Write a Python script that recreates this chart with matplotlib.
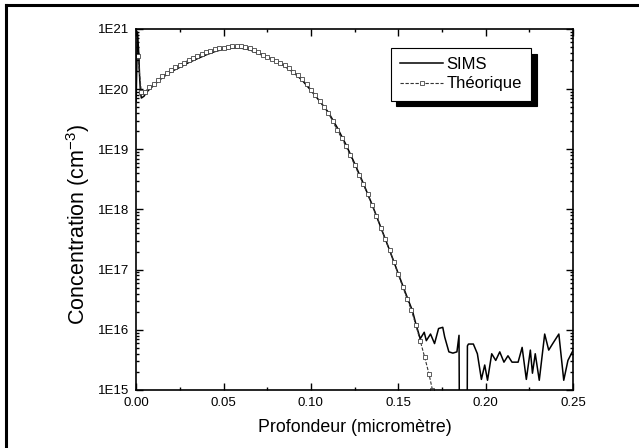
import matplotlib.pyplot as plt
from matplotlib.lines import Line2D
from matplotlib.ticker import FixedLocator, LogLocator, NullFormatter

plt.rcParams["font.family"] = ["Liberation Sans", "DejaVu Sans"]
plt.rcParams["mathtext.fontset"] = "custom"
plt.rcParams["mathtext.rm"] = "Liberation Sans"
plt.rcParams["mathtext.default"] = "regular"

# SIMS profile (depth in micrometres, concentration in cm^-3)
sims_depth = [
    0.000, 0.0008, 0.0015, 0.002, 0.0025, 0.003, 0.0045, 0.006, 0.010, 0.015,
    0.020, 0.025, 0.030, 0.035, 0.040, 0.045, 0.050, 0.055, 0.060, 0.065,
    0.070, 0.075, 0.080, 0.085, 0.090, 0.095, 0.100, 0.105, 0.110, 0.115,
    0.120, 0.125, 0.130, 0.135, 0.140, 0.145, 0.150, 0.155, 0.158, 0.160,
    0.1625, 0.1648, 0.1660, 0.1684, 0.1707, 0.1730, 0.1754, 0.1765, 0.1789, 0.1812,
    0.1835, 0.1847, 0.1850, 0.1893, 0.1895, 0.1901, 0.1929, 0.1952, 0.1975, 0.1994,
    0.2010, 0.2034, 0.2057, 0.2080, 0.2104, 0.2127, 0.2150, 0.2185, 0.2208, 0.2232,
    0.2255, 0.2267, 0.2283, 0.2306, 0.2337, 0.2360, 0.2383, 0.2418, 0.2446, 0.2470,
    0.2500,
]
sims_conc = [
    6.3e19, 8.9e20, 4.0e20, 1.6e20, 8.9e19, 7.1e19, 7.6e19, 8.9e19, 1.15e20, 1.55e20,
    1.95e20, 2.3e20, 2.75e20, 3.2e20, 3.7e20, 4.2e20, 4.6e20, 4.8e20, 4.8e20, 4.5e20,
    3.9e20, 3.4e20, 2.9e20, 2.4e20, 1.9e20, 1.4e20, 9.5e19, 6.3e19, 4.1e19, 2.3e19,
    1.2e19, 5.8e18, 2.7e18, 1.2e18, 5.0e17, 2.1e17, 8.5e16, 3.5e16, 2.1e16, 1.26e16,
    7.1e15, 9.1e15, 6.6e15, 8.5e15, 5.9e15, 1.05e16, 1.1e16, 7.6e15, 4.3e15, 4.1e15,
    4.3e15, 8.1e15, 1e14, 1e14, 5.4e15, 5.8e15, 5.8e15, 4.0e15, 1.5e15, 2.6e15,
    1.45e15, 4.0e15, 3.1e15, 4.3e15, 2.9e15, 3.7e15, 2.9e15, 2.9e15, 5.1e15, 1.5e15,
    4.6e15, 1.9e15, 4.0e15, 1.45e15, 8.5e15, 4.6e15, 5.9e15, 8.5e15, 1.45e15, 3.1e15,
    4.6e15,
]

# Theoretical profile
theo_depth = [
    0.001, 0.003, 0.005, 0.0075, 0.010, 0.0125, 0.015, 0.0175, 0.020, 0.0225,
    0.025, 0.0275, 0.030, 0.0325, 0.035, 0.0375, 0.040, 0.0425, 0.045, 0.0475,
    0.050, 0.0525, 0.055, 0.0575, 0.060, 0.0625, 0.065, 0.0675, 0.070, 0.0725,
    0.075, 0.0775, 0.080, 0.0825, 0.085, 0.0875, 0.090, 0.0925, 0.095, 0.0975,
    0.100, 0.1025, 0.105, 0.1075, 0.110, 0.1125, 0.115, 0.1175, 0.120, 0.1225,
    0.125, 0.1275, 0.130, 0.1325, 0.135, 0.1375, 0.140, 0.1425, 0.145, 0.1475,
    0.150, 0.1525, 0.155, 0.1575, 0.160, 0.1625, 0.165, 0.1675, 0.1695,
]
theo_conc = [
    3.5e20, 8.9e19, 8.9e19, 1.07e20, 1.23e20, 1.41e20, 1.62e20, 1.82e20, 2.04e20, 2.29e20,
    2.51e20, 2.75e20, 3.02e20, 3.31e20, 3.55e20, 3.8e20, 4.07e20, 4.37e20, 4.57e20, 4.79e20,
    4.9e20, 5.0e20, 5.13e20, 5.13e20, 5.13e20, 5.0e20, 4.79e20, 4.47e20, 4.07e20, 3.72e20,
    3.39e20, 3.16e20, 2.95e20, 2.75e20, 2.51e20, 2.24e20, 1.95e20, 1.7e20, 1.45e20, 1.2e20,
    9.8e19, 7.9e19, 6.3e19, 5.0e19, 4.0e19, 2.9e19, 2.1e19, 1.55e19, 1.12e19, 7.9e18,
    5.5e18, 3.8e18, 2.6e18, 1.78e18, 1.17e18, 7.8e17, 5.0e17, 3.2e17, 2.1e17, 1.32e17,
    8.3e16, 5.2e16, 3.3e16, 2.1e16, 1.2e16, 6.6e15, 3.55e15, 1.86e15, 1.0e15,
]

x_ticks = [0.00, 0.05, 0.10, 0.15, 0.20, 0.25]
x_tick_labels = ["0.00", "0.05", "0.10", "0.15", "0.20", "0.25"]
y_ticks = [1e15, 1e16, 1e17, 1e18, 1e19, 1e20, 1e21]
y_tick_labels = ["1E15", "1E16", "1E17", "1E18", "1E19", "1E20", "1E21"]


def main():
    fig = plt.figure(figsize=(6.39, 4.48), dpi=100)
    ax = fig.add_axes([0.213, 0.1295, 0.684, 0.806])

    ax.plot(
        sims_depth,
        sims_conc,
        color="black",
        linewidth=1.1,
        label="SIMS"
    )
    ax.plot(
        theo_depth,
        theo_conc,
        color="#333333",
        linewidth=0.8,
        linestyle=(0, (3, 1.5)),
        marker="s",
        markersize=3.5,
        markerfacecolor="white",
        markeredgecolor="#444444",
        markeredgewidth=0.6,
        label="Théorique"
    )

    ax.set_yscale("log")
    ax.set_xlim(0.0, 0.25)
    ax.set_ylim(1e15, 1e21)

    ax.set_xticks(x_ticks)
    ax.set_xticklabels(x_tick_labels)
    ax.xaxis.set_minor_locator(FixedLocator([0.025, 0.075, 0.125, 0.175, 0.225]))
    ax.set_yticks(y_ticks)
    ax.set_yticklabels(y_tick_labels)
    ax.yaxis.set_minor_locator(LogLocator(base=10, subs=range(2, 10), numticks=20))
    ax.yaxis.set_minor_formatter(NullFormatter())

    ax.tick_params(which="both", direction="in", top=True, right=True,
                   labelsize=9.5, width=1.0)
    ax.tick_params(which="major", length=5, pad=5)
    ax.tick_params(which="minor", length=2.5)
    for spine in ax.spines.values():
        spine.set_linewidth(1.2)

    ax.set_xlabel("Profondeur (micromètre)", fontsize=12.8, labelpad=7)
    ax.set_ylabel("Concentration (cm$^{-3}$)", fontsize=15.5)
    ax.yaxis.set_label_coords(-0.10, 0.46)

    leg = ax.legend(
        loc="upper right",
        bbox_to_anchor=(0.904, 0.947),
        borderaxespad=0,
        fancybox=False,
        framealpha=1,
        edgecolor="black",
        shadow={"color": "black", "alpha": 1, "ox": 4, "oy": -4},
        numpoints=1,
        fontsize=12,
        handlelength=2.6,
        handletextpad=0.2,
        labelspacing=0.25,
        borderpad=0.55,
    )
    leg.get_frame().set_linewidth(0.8)

    # outer frame of the scanned figure (only top and left edges visible)
    fig.add_artist(Line2D([0.010, 0.010], [0.0, 0.988], transform=fig.transFigure,
                          color="black", linewidth=2.2))
    fig.add_artist(Line2D([0.010, 1.0], [0.988, 0.988], transform=fig.transFigure,
                          color="black", linewidth=2.2))

    fig.savefig("out.png", dpi=100)
    plt.close(fig)


if __name__ == "__main__":
    main()
